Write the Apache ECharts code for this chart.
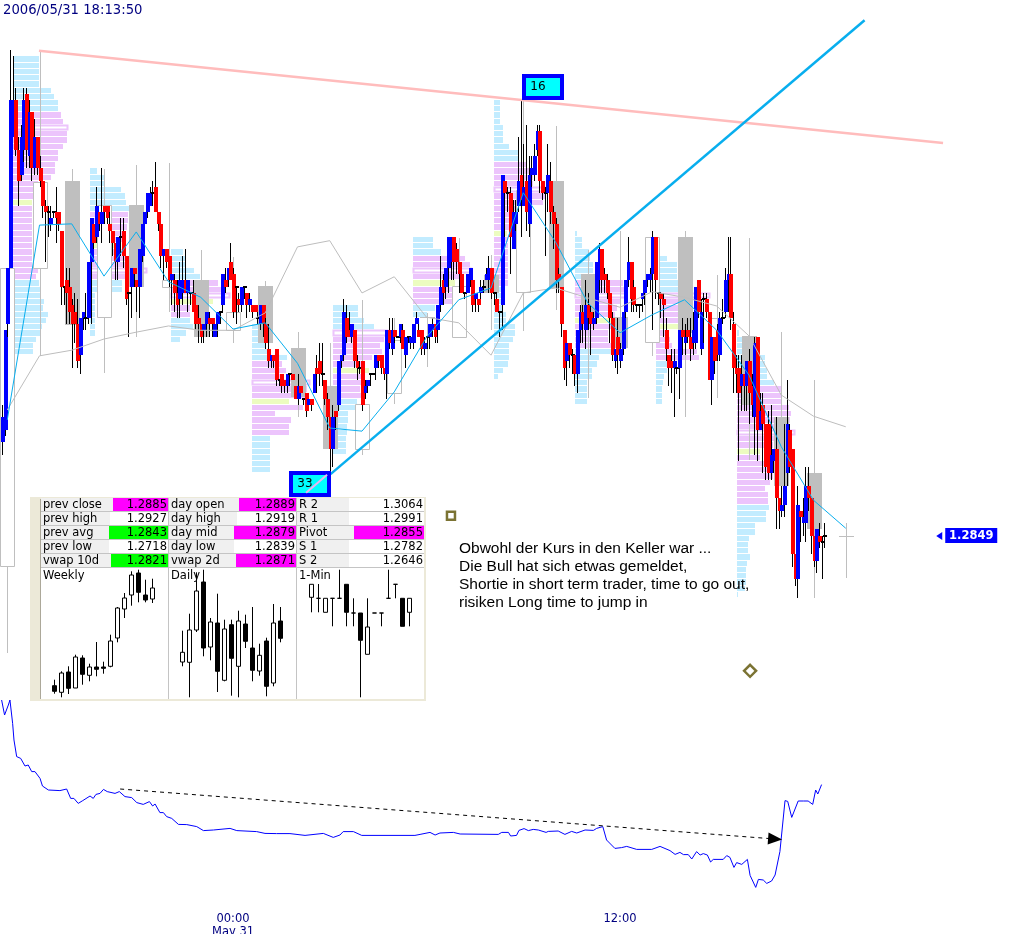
<!DOCTYPE html>
<html><head><meta charset="utf-8">
<style>html,body{margin:0;padding:0;background:#fff;overflow:hidden}#c{width:1014px;height:934px}</style>
<script src="https://cdn.jsdelivr.net/npm/echarts@6/dist/echarts.min.js"></script></head>
<body><div id="c"></div>
<script>
// Prices are in pips above 1.2800 (85 = 1.2885). Bars are 5-minute bars, index 0 = 00:00.
const firstBar = -86;
const bars5m = [
[64,68,62,70],[66,82,65,82],[83,92,81,92],[92,119,92,127],[113,119,113,126],[119,111,110,121],[111,106,102,113],[107,113,106,115],[111,119,109,121],[120,111,108,121],
[110,117,108,119],[117,108,106,117],[108,113,107,116],[113,108,107,113],[108,106,105,110],[106,102,100,106],[102,101,93,103],[101,101,97,102],[99,100,98,102],[101,101,100,101],
[101,100,96,105],[101,99,98,101],[98,89,86,98],[89,89,86,89],[90,88,83,92],[89,85,83,92],[86,83,76,87],[85,83,80,88],[83,77,76,87],[78,84,75,84],
[84,85,82,85],[84,84,82,88],[84,93,83,93],[93,100,83,100],[99,96,95,99],[97,102,96,105],[101,99,98,101],[99,101,96,108],[102,101,99,102],[102,100,99,102],
[99,98,96,101],[98,96,94,98],[96,93,90,96],[93,97,90,97],[97,97,94,100],[98,94,92,100],[94,87,86,94],[88,88,81,88],[89,92,84,92],[92,91,89,92],
[90,89,85,90],[89,95,84,95],[94,99,93,99],[99,101,99,101],[101,104,100,104],[102,104,102,105],[104,104,102,106],[105,101,101,109],[101,99,98,101],[99,94,92,99],
[94,95,90,95],[95,93,92,95],[94,90,89,94],[90,91,86,91],[90,88,85,91],[88,86,84,90],[87,90,84,93],[88,90,86,94],[90,88,88,95],[88,90,85,90],
[88,88,86,88],[88,85,85,90],[86,83,82,86],[84,83,80,86],[83,81,80,83],[82,83,80,83],[83,85,81,85],[84,83,81,85],[84,83,81,84],[81,83,81,83],
[83,85,81,85],[85,85,83,85],[86,91,85,91],[90,89,88,92],[90,92,89,92],[93,90,90,96],
[91,85,84,92],[89,89,83,89],[87,86,85,88],[86,89,85,89],[89,89,87,89],[88,86,84,88],[86,87,85,88],[86,85,84,86],[86,85,85,86],[84,84,83,85],
[83,86,82,86],[86,83,81,86],[83,80,79,84],[79,77,76,83],[77,78,76,78],[78,77,76,78],[79,74,73,79],[74,74,73,74],[75,73,72,75],[74,73,72,74],
[73,75,72,75],[75,75,73,75],[75,74,74,75],[73,71,71,73],[71,73,70,75],[73,72,72,73],[71,71,70,71],[72,69,68,72],[70,71,70,71],[71,70,69,71],
[72,75,72,75],[76,75,72,78],[77,75,73,80],[75,75,73,80],[74,71,70,74],[71,68,66,72],[68,63,59,68],[63,68,60,70],[69,68,66,69],[70,77,69,77],
[77,78,76,78],[78,85,77,87],[84,81,80,86],[82,81,81,85],[81,83,80,83],[82,77,76,82],[77,76,74,78],[76,76,75,77],[77,70,69,77],[72,73,71,74],
[73,74,72,74],[75,75,73,75],[75,75,75,75],[76,78,74,78],[78,77,76,78],[78,76,75,78],[76,75,74,76],[75,82,71,82],[82,80,79,84],[79,82,78,84],
[82,81,80,82],[81,81,81,81],[81,83,80,83],[82,79,79,83],[78,81,76,81],[81,81,80,81],[80,81,79,81],[80,83,79,83],[83,84,83,85],[82,81,81,83],
[82,79,78,82],[79,80,78,81],[81,81,79,81],[81,83,79,83],[82,83,81,84],[83,81,80,83],[82,86,80,86],[86,89,85,94],[90,88,86,91],[89,92,87,92],
[92,97,88,97],[93,97,90,97],[97,93,90,97],[95,93,91,96],[93,91,88,93],[91,88,88,91],[88,88,87,88],[88,91,88,91],[90,92,89,92],[90,86,85,90],
[87,88,85,88],[87,86,85,87],[88,89,87,90],[89,89,88,90],[90,91,90,92],[90,92,88,94],[92,88,87,92],[88,88,86,88],[87,85,85,88],[85,85,81,85],
[86,107,82,107],[106,104,97,106],[104,104,101,105],[104,97,91,105],[95,101,95,103],[99,101,98,103],[102,106,101,113],[107,103,97,119],[102,105,102,112],[106,101,98,115],
[99,107,97,110],[107,108,105,110],[107,110,106,112],[111,114,110,115],[114,106,104,115],[106,104,103,106],[104,104,94,105],[104,107,101,112],[106,101,99,109],[101,99,95,102],
[99,90,88,100],[91,90,88,92],[89,83,81,89],[82,76,74,82],[77,80,73,80],[80,78,76,80],[78,78,75,79],[78,75,73,78],[75,82,72,82],[82,85,80,86],
[85,83,80,86],[82,86,79,90],[86,84,82,88],[85,83,78,86],[83,84,82,85],[84,93,83,93],[90,95,88,96],[95,90,88,95],[91,90,88,92],[90,88,87,91],
[88,84,80,88],[84,78,77,85],[77,79,76,79],[81,78,75,84],[77,79,76,80],[79,85,78,85],[85,90,84,90],[90,93,89,97],[93,87,85,93],[89,86,85,90],
[86,86,85,86],[86,86,84,86],[87,88,85,88],[88,90,86,90],[90,91,89,91],[90,91,88,92],[91,97,82,98],[97,90,87,97],[88,88,86,88],[88,87,84,88],
[87,86,81,88],[82,79,77,84],[78,76,73,78],[77,76,72,79],[76,77,68,79],[76,76,75,76],[76,82,71,82],[82,81,78,84],[80,81,78,83],[82,81,80,84],
[81,79,77,84],[80,82,78,85],[80,89,79,89],[90,85,84,90],[79,85,78,87],[87,87,80,88],[87,85,84,88],[85,74,74,85],[74,81,70,81],[81,77,75,81],
[82,78,77,83],[78,84,77,85],[84,84,83,87],[85,90,84,92],[90,91,85,97],[91,84,82,97],[83,76,72,85],[76,75,72,78],[76,72,61,78],[73,75,69,78],
[75,73,69,75],[73,77,69,77],[77,72,67,79],[73,70,68,75],[68,80,62,81],[81,66,61,81],[66,69,66,72],[70,67,59,72],[67,60,58,67],[67,59,58,69],
[59,62,58,70],[61,63,59,63],[63,55,50,68],[55,53,50,55],[53,54,52,57],[54,57,52,67],[59,67,57,74],[66,60,59,67],[63,46,44,63],[46,42,41,46],
[42,54,39,57],[53,52,48,53],[51,52,49,55],[51,57,48,60],[57,55,53,60],[55,49,46,55],[49,45,44,49],[45,50,43,50],[49,48,47,51],[48,48,42,49],
[49,49,47,51]];

// Hourly candles: [hour offset from 00:00, open, close, low, high]
const hourly = [
[-7,44.1,92,30.2,92],[-6,92,105.8,77.9,126.9],[-5,106,82.8,79.6,107.9],[-4,84.1,102.1,75.1,107.9],[-3,102.1,89,80.9,108.6],[-2,89,90,85,108.9],
[-1,90,80.9,80.4,94.9],[0,82,85,80,93.8],[1,89.1,80,80,89.9],[2,79.2,71.3,68,81.7],[3,73,62.9,59,80],[4,62.9,70.2,62,86.9],[5,72,80.4,70.2,84],
[6,84.1,84.1,76.1,84.8],[7,80.9,89.1,80.9,96.8],[8,90.9,88,82,94.1],[9,88.2,104.5,81.9,119],[10,106,88.8,85.3,114.8],[11,91,84.1,71.1,94.9],
[12,84.1,79.2,76.1,98],[13,80.1,97,77.9,98],[14,97,81.6,68,98],[15,84,84,71.1,90.9],[16,81.1,70,61.2,96.8],[17,68,57,52.6,81.7],[18,59,50,39,74],[19,49,49,42.2,51]];

// Hourly overlay lines, hour offsets -7 ... 19
const lineHours = [-7,-6,-5,-4,-3,-2,-1,0,1,2,3,4,5,6,7,8,9,10,11,12,13,14,15,16,17,18,19];
const vwapLine = [67.6,98.9,99.1,90.7,97.8,89.8,87.3,82.2,83.2,76.7,66.3,65.8,72.1,80.9,86.9,88.8,104.1,96.2,86.4,81.6,84.5,86.9,82,74.8,63.3,54.7,50.2];
const grayLine = [69.2,77.9,78.8,80.6,81.7,82.7,82,82,84.8,95.4,96.4,88,90.6,84.1,83.2,78,88,88.8,87.2,85.7,88.2,87.3,85.9,81.1,71.6,68.2,66.5];

// Market profiles: start bar, top price row, row lengths (TPO), value-area rows, mid row, peak row
const profStart = [-81.9,-53.2,-23.1,7.1,37.2,67,97.1,127.3,157.4,187.5];
const profTop = [125,107,94,82,85,96,118,97,93,81];
const profLens = [
[8.7,8.7,8.7,8.7,8.7,12.7,13.7,15,15,16,16.7,18.3,18,18,16.7,15,15,14,14,12.7,8.3,6.7,6.7,6.3,6.3,6.3,6.3,6.3,6.3,6.3,6.3,6.3,6.3,6.3,8.3,7.7,8.7,9.3,9.3,10.3,10,11.7,11,9.7,9.3,7.7,6.7,6.7],
[2.3,5,5,10.3,11.7,12,13,12.7,12.7,12.3,11.3,10.7,10,11.7,13.3,15,19,17.7,10.7,10.7,1.7,1.7,1.7,1.7,1.7,1.7,1.7],
[4,5,5,7.7,9.7,15.7,16.7,19.7,14,6.3,6.3,6.3,7.3,5,3],
[2.1,2.1,4,4.3,5.4,11.6,9.9,11.2,10.4,19.3,18.2,18.2,12.4,17.1,7.7,13,12.3,12.3,6,6,6,6,6,6],
[8.3,8.3,10.3,13.7,18.4,17,15.7,16.3,13,10.3,12,10,10,9,9.2,7.9,7.3,5,5,4.8,4.8,4.3,4.3,4.3],
[6.7,6.7,9.3,17.3,19,19.6,15.7,14,16.2,15.7,13.4,7.3,4.6],
[2,2,2,2,3,3,3,5,8,8,10.9,12,13.1,13.1,17.6,17,16.4,8.1,5.1,5.1,5.1,4.2,4.8,4.8,4.8,4.8,4.8,4.8,4.8,4.8,3,3,3,3,4,4,7,7,6.2,5.1,5.1,5.1,4.8,3.1,1.3],
[0.7,2.3,2.3,4.7,5,6.1,6,6.7,16.1,17.2,17.2,15,13.9,13.3,12.2,12.2,11.1,11.1,12.8,12.8,7.8,7.2,5.6,5.6,4.1,4.1,4.1,4.1],
[3.6,6.9,6.9,6.9,9.1,10.2,18,12.4,12.4,12.4,10.2,8,4.1,4.7,5.2,13.6,14.3,4.7,3.6,2.8,2.3,1.9,1.9,1.9],
[0.7,2.1,2.1,2.1,9.3,9.3,10,10,12.3,14.7,14.7,15.1,17.3,18,17.7,13.2,19.3,12.7,12.1,7.7,7.7,9.9,11.6,12.1,11,9.3,10.3,10.3,10.7,9.7,9.7,6,6,4,3.7,3.7,4.3,3.3,3,3,3,2.7,0.2]];
const profValueFrom = [9,7,5,6,4,3,10,8,6,9];
const profValueTo = [35,17,10,17,14,10,29,18,16,27];
const profMid = [23,12,8,12,10,7,21,14,11,19];
const profPeak = [11,16,7,9,4,5,14,10,6,16];

// Trend lines [bar, price]
const resistance = [[-72.2,126.9],[264.2,112.1]];
const support = [[36.3,58.9],[235,131.8]];
const supportEcho = [[27.2,55.9],[35,58.8]];
const callouts = [[115.5,121.1,'16'],[28.5,57.3,'33']];
const markerSquare = [[81.1,52.2]];
const markerDiamond = [[192.4,27.3]];
const lastPrice = 49;
const lastPriceLabel = '1.2849';

// Lower pane indicator [bar, value]
const indicator = [[-86.1,105],[-85,97.5],[-83.6,102.5],[-83,105],[-82,93.3],[-81.5,85],[-80.5,76.7],[-79,75.8],[-77.4,72],[-76.2,72.5],[-74.9,69.2],[-73.7,69.2],[-71.8,65.8],[-70.9,62],[-68.7,60],[-64.4,59.7],[-61.9,60.5],[-60.4,55.8],[-59.2,55.8],[-57.6,53.3],[-55.9,54.7],[-53.2,57],[-52,55.8],[-51,57.8],[-49.5,58.3],[-48.2,60.3],[-46.8,59.2],[-43.9,58.3],[-42.3,59.2],[-40.2,56.7],[-37.7,56.2],[-35.8,53.7],[-33.4,52.8],[-31.1,54.2],[-29.9,52],[-29,53],[-27.2,48.7],[-25.9,48.7],[-24.7,46.7],[-22.8,45.8],[-20.3,42.8],[-17.2,42.7],[-13.5,41.7],[-11,39.7],[-7.3,40],[-1.1,40.8],[1.4,39.7],[8.8,39.2],[11.9,38.3],[16.2,38.2],[21.2,38.2],[26.8,37.3],[33.6,38.3],[37.3,36.3],[39.8,37.5],[41,39.2],[44.8,39.2],[47.9,37.3],[67.7,37.3],[69.6,37.8],
[73.3,38.8],[75.2,37.5],[77,38.5],[82,38.8],[84.5,38],[98.7,37.8],[100,38.8],[102.5,38.8],[103.3,37],[105.5,37.3],[106.4,39.8],[108.3,40.7],[109.9,39.7],[111.7,40.3],[113.6,40],[116.5,38.8],[117.3,39.3],[121,39.5],[123.5,37.8],[126,39.3],[127.9,38.5],[131,40],[134.1,39.8],[135.3,40.8],[137.6,41.7],[139,35],[142.1,30.8],[144.6,31.2],[146.5,31.8],[150.2,30.3],[155.8,30.3],[158.9,31.8],[162.6,29.7],[164.5,27.8],[166.3,28.8],[167.6,27.7],[169.4,27.7],[170.7,25.5],[172.5,29.2],[173.8,27.5],[175,28.2],[176.5,27.5],[177.7,24],[178.7,25.3],[182.4,25.3],[183.7,27.2],[184.9,26.3],[186.4,21.3],[187.4,23.7],[189.3,22.8],[191.4,25.3],[192.4,17.3],[194.5,11.3],[195.5,15.3],[197.3,15],[198.6,13.3],[200.4,14.5],[201.7,17.5],[203.5,29.2],[205.4,54.7],[206.4,54.3],[207.9,46.3],[210.3,54.5],[212.2,54.5],[214,54.5],[215.7,52.8],[216.8,60],[217.6,58],[219,62.7]];
const indicatorTrend = [[-42,60.5],[201.7,35.5]];

// Mini candles [open, close, low, high]
const weekly = [[12.3,6.7,4.3,18.3],[5.7,25,.7,26.7],[26,9.7,4,31.7],[10,41,10,43.3],[40,23.7,13.3,42.7],[22.7,31,16.7,34.3],[31,28.7,21.7,56],[31,29.7,24.3,36.3],[31.7,57,30.7,63.3],[60,90,55.7,91],[89,100,80,105],[103,123,92.3,126.7],[125,105.7,95.7,128.3],[103,98,95.7,118.3],[99,110,95,119.3]];
const daily = [[36,45.7,31.7,67.3],[35.7,68,.7,84.3],[68,107,66,125.7],[116,50,41.7,128.3],[51,76,37.7,80],[75,26.7,6,104.3],[17.7,69,16.7,78.3],[73.3,39.7,2.3,78.3],[31.7,77,.7,87.3],[74,56.7,50,83.3],[50,27.7,16.7,91],[27,42.7,22.3,54.3],[57,11.7,1.7,60.3],[15,75,11.7,94],[77,59.7,55.7,91]];
const oneMin = [[100.7,113.7,85.7,113.7],[99.7,99.7,85.7,114],[85.7,99.7,85.7,99.7],[99.7,99.7,71.7,99.7],[99.7,99.7,99.7,128.3],[113.7,85.7,71.7,113.7],[85,85,71.7,99.7],[85,57.7,.7,85],[43.7,71,43.7,99.7],[85,85,85,85],[85,85,71.7,85],[99.7,99.7,99.7,128.3],[113.7,113.7,99.7,113.7],[99.7,71.7,71.7,99.7],[85.7,99.7,71.7,99.7]];
const miniTitles = ['Weekly','Daily','1-Min'];

// Info table
const tableLabels = [['prev close','day open','R 2'],['prev high','day high','R 1'],['prev avg','day mid','Pivot'],['prev low','day low','S 1'],['vwap 10d','vwap 2d','S 2']];
const tableValues = [['1.2885','1.2889','1.3064'],['1.2927','1.2919','1.2991'],['1.2843','1.2879','1.2855'],['1.2718','1.2839','1.2782'],['1.2821','1.2871','1.2646']];
const tableFills = [['#ff00ff','#ff00ff','#fff'],['#fff','#fff','#fff'],['#00ff00','#ff00ff','#ff00ff'],['#fff','#fff','#fff'],['#00ff00','#ff00ff','#fff']];
const tableFillFrom = [[113,239,349],[110,237,349],[109,234,354],[109,234,349],[111,236,349]];
const noteLines = ['Obwohl der Kurs in den Keller war ...','Die Bull hat sich etwas gemeldet,','Shortie in short term trader, time to go out,','risiken Long time to jump in'];
const timestamp = '2006/05/31 18:13:50';

const C = {up:'#0000ff',down:'#ff0000',wick:'#000',hour:'#bfbfbf',pale:'#c2ecff',pink:'#ecc4fc',mid:'#ecfcc0',cyan:'#08aeee',rose:'#ffbcbc',olive:'#5a5000',navy:'#000080',sep:'#c4c4c4',frame:'#ece9d8'};
const BAR_H = 12, TPO = 1.116;
const R = Math.round;

function renderBar(p, api){
  const i=api.value(0),o=api.value(1),c=api.value(2),l=api.value(3),h=api.value(4);
  const x=R(api.coord([i,o])[0]), yo=R(api.coord([i,o])[1]), yc=R(api.coord([i,c])[1]), yl=R(api.coord([i,l])[1]), yh=R(api.coord([i,h])[1]);
  const kids=[{type:'rect',shape:{x:x,y:yh,width:1,height:yl-yh},style:{fill:C.wick}}];
  if(o===c) kids.push({type:'rect',shape:{x:x-1,y:yo-1,width:4,height:2},style:{fill:C.wick}});
  else kids.push({type:'rect',shape:{x:x-1,y:Math.min(yo,yc),width:4,height:Math.abs(yo-yc)},style:{fill:c>o?C.up:C.down}});
  return {type:'group',children:kids};
}
function renderHour(p, api){
  const i=api.value(0)*BAR_H,o=api.value(1),c=api.value(2),l=api.value(3),h=api.value(4);
  const x=R(api.coord([i,o])[0]), yo=R(api.coord([i,o])[1]), yc=R(api.coord([i,c])[1]), yl=R(api.coord([i,l])[1]), yh=R(api.coord([i,h])[1]);
  const kids=[{type:'rect',shape:{x:x,y:yh,width:1,height:yl-yh},style:{fill:C.hour}}];
  if(o===c) kids.push({type:'rect',shape:{x:x-7,y:yo,width:15,height:1},style:{fill:C.hour}});
  else if(c<o) kids.push({type:'rect',shape:{x:x-7,y:yo,width:15,height:yc-yo},style:{fill:C.hour}});
  else kids.push({type:'rect',shape:{x:x-6.5,y:yc+.5,width:14,height:yo-yc},style:{fill:'#fff',stroke:C.hour,lineWidth:1}});
  return {type:'group',children:kids};
}
const profData=[];
profLens.forEach((rows,n)=>rows.forEach((len,r)=>{
  const kind = r===profPeak[n]?3 : r===profMid[n]?2 : (r>=profValueFrom[n]&&r<=profValueTo[n])?1:0;
  profData.push([profStart[n],profTop[n]-r,len,kind]);
}));
function renderProf(p, api){
  const s=api.value(0),q=api.value(1),len=api.value(2),k=api.value(3);
  const a=api.coord([s,q+1]), b=api.coord([s+len*TPO,q]);
  const x=R(a[0]), y=R(a[1]), w=R(b[0])-x, h=R(b[1])-y-1;
  if(k===3) return {type:'rect',shape:{x:x+.5,y:y+.5,width:w-1,height:h-1},style:{fill:'#fff',stroke:C.pink,lineWidth:2}};
  return {type:'rect',shape:{x:x,y:y,width:w,height:h},style:{fill:[C.pale,C.pink,C.mid][k]}};
}
function renderCallout(p, api){
  const c=api.coord([api.value(0),api.value(1)]);
  const w=38,h=22,x=R(c[0])-w/2,y=R(c[1])-h/2;
  return {type:'group',children:[
    {type:'rect',shape:{x:x,y:y,width:w,height:h},style:{fill:'#00ffff',stroke:'#0000ff',lineWidth:4}},
    {type:'text',style:{x:R(c[0])-5,y:R(c[1]),text:api.value(2),fill:'#000',font:'12px "DejaVu Sans"',align:'center',verticalAlign:'middle'}}]};
}
function renderTag(p, api){
  const c=api.coord([api.value(0),api.value(1)]);
  const x=c[0], y=R(c[1]);
  return {type:'group',children:[
    {type:'polygon',shape:{points:[[x,y-4],[x,y+4],[x-6,y]]},style:{fill:C.up}},
    {type:'rect',shape:{x:x+3,y:y-8,width:52,height:15},style:{fill:C.up}},
    {type:'text',style:{x:x+29,y:y,text:api.value(2),fill:'#fff',font:'bold 11.5px "DejaVu Sans"',align:'center',verticalAlign:'middle'}}]};
}

const XMIN=-86.7, XMAX=290.6;
const hiddenX={type:'value',min:XMIN,max:XMAX,show:false};
const miniLefts=[50.8,178.8,307.8];
function mini(idx,data){
  return {name:miniTitles[idx],type:'candlestick',xAxisIndex:2+idx,yAxisIndex:2+idx,data:data,barWidth:5,
    itemStyle:{color:'#fff',color0:'#000',borderColor:'#000',borderColor0:'#000',borderColorDoji:'#000',borderWidth:1}};
}

// Info panel graphics
const g=[];
const rect=(x,y,w,h,fill,z)=>g.push({type:'rect',silent:true,z:z||1,shape:{x,y,width:w,height:h},style:{fill}});
const text=(x,y,s,font,fill,align,z)=>g.push({type:'text',silent:true,z:z||2,style:{x,y,text:s,font,fill,align:align||'left',verticalAlign:'middle'}});
rect(30,497,396,204,C.frame); rect(32,499,392,200,'#fff');
rect(32,499,9,200,C.frame); rect(40,499,1,200,'#aca899');
const colL=[41,169,297], colR=[168,296,424];
tableLabels.forEach((row,r)=>row.forEach((lab,c)=>{
  const y=498+r*14;
  rect(colL[c],y,colR[c]-colL[c],13,'#f0f0f0');
  rect(tableFillFrom[r][c],y,colR[c]-tableFillFrom[r][c],13,tableFills[r][c]);
  text(colL[c]+2,y+7,lab,'11.5px "DejaVu Sans"','#000');
  text(colR[c]-1,y+7,tableValues[r][c],'11.5px "DejaVu Sans"','#000','right');
}));
for(let r=0;r<5;r++) rect(41,511+r*14,383,1,C.sep);
rect(168,498,1,201,C.sep); rect(296,498,1,201,C.sep);
miniTitles.forEach((t,i)=>text(colL[i]+2,576,t,'11.5px "DejaVu Sans"','#000'));
noteLines.forEach((t,i)=>text(459,549+i*18,t,'15.5px "Liberation Sans"','#000','left',50));
text(3,11,timestamp,'13.2px "DejaVu Sans"',C.navy,'left',50);

const option={
  animation:false,
  graphic:{elements:g},
  grid:[{left:0,top:0,width:1014,height:700,outerBoundsMode:'none'},{left:0,top:700,width:1014,height:210,outerBoundsMode:'none'},
        ...miniLefts.map(l=>({left:l,top:568,width:105,height:130,outerBoundsMode:'none'}))],
  xAxis:[hiddenX,
    {type:'value',gridIndex:1,min:XMIN,max:XMAX,axisLine:{show:false},axisTick:{show:false},splitLine:{show:false},
     axisLabel:{customValues:[0,144],margin:3,color:C.navy,fontFamily:'DejaVu Sans',fontSize:11.5,lineHeight:13,
       formatter:v=>v===0?'00:00\nMay 31':'12:00'}},
    ...miniLefts.map((l,i)=>({type:'category',gridIndex:2+i,show:false,data:[...Array(15).keys()]}))],
  yAxis:[{type:'value',min:22.61,max:135.06,show:false},{type:'value',gridIndex:1,min:0,max:105,show:false},
    ...miniLefts.map((l,i)=>({type:'value',gridIndex:2+i,min:0,max:130,show:false}))],
  series:[
    {name:'profile',type:'custom',renderItem:renderProf,data:profData,encode:{x:0,y:1},z:2},
    {name:'hourly',type:'custom',renderItem:renderHour,data:hourly,encode:{x:0,y:1},z:3},
    {name:'grayline',type:'line',data:lineHours.map((h,i)=>[h*BAR_H,grayLine[i]]),symbol:'none',lineStyle:{color:'#bdbdbd',width:1},z:5},
    {name:'bars',type:'custom',renderItem:renderBar,data:bars5m.map((b,i)=>[firstBar+i,...b]),encode:{x:0,y:1},z:4},
    {name:'vwap',type:'line',data:lineHours.map((h,i)=>[h*BAR_H,vwapLine[i]]),symbol:'none',lineStyle:{color:C.cyan,width:1},z:6},
    {name:'resistance',type:'line',data:resistance,symbol:'none',lineStyle:{color:C.rose,width:2.5},z:6},
    {name:'support',type:'line',data:support,symbol:'none',lineStyle:{color:C.cyan,width:2.5},z:6},
    {name:'callouts',type:'custom',renderItem:renderCallout,data:callouts,encode:{x:0,y:1},z:7,
      dimensions:['x','y',{name:'t',type:'ordinal'}]},
    {name:'supportEcho',type:'line',data:supportEcho,symbol:'none',lineStyle:{color:'#ecb4f0',width:2},z:8},
    {name:'square',type:'scatter',data:markerSquare,symbol:'rect',symbolSize:8,itemStyle:{color:'#fff',borderColor:C.olive,borderWidth:2.5},z:6},
    {name:'diamond',type:'scatter',data:markerDiamond,symbol:'diamond',symbolSize:12,itemStyle:{color:'#fff',borderColor:C.olive,borderWidth:2.5},z:6},
    {name:'last',type:'custom',renderItem:renderTag,data:[[263.9,lastPrice,lastPriceLabel]],encode:{x:0,y:1},z:7,
      dimensions:['x','y',{name:'t',type:'ordinal'}]},
    {name:'indicator',type:'line',xAxisIndex:1,yAxisIndex:1,data:indicator,symbol:'none',lineStyle:{color:'#0000ff',width:1},z:4},
    {name:'indicatorTrend',type:'line',xAxisIndex:1,yAxisIndex:1,data:[],symbol:'none',
      markLine:{silent:true,symbol:['none','triangle'],symbolSize:[12,14],label:{show:false},
        lineStyle:{color:'#000',type:[4,4],width:1},
        data:[[{coord:indicatorTrend[0]},{coord:indicatorTrend[1]}]]},z:4},
    mini(0,weekly),mini(1,daily),mini(2,oneMin)
  ]
};
const chart=echarts.init(document.getElementById('c'),null,{renderer:'canvas',width:1014,height:934});
chart.setOption(option);
</script></body></html>
